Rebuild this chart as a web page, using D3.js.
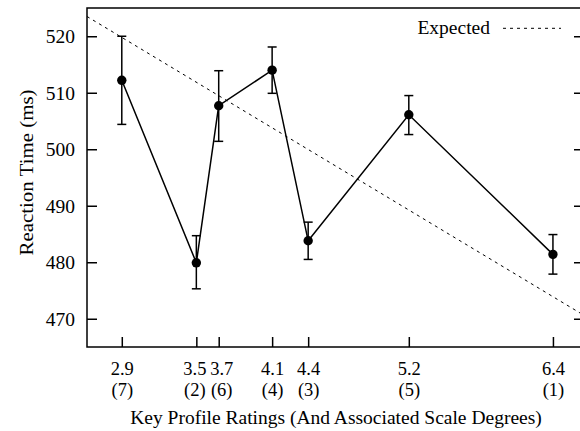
<!DOCTYPE html>
<html><head><meta charset="utf-8">
<script src="https://cdn.jsdelivr.net/npm/d3@7"></script>
<style>
html,body{margin:0;padding:0;background:#fff;}
svg{display:block;}
svg text{font-family:"Liberation Serif","Times New Roman",Times,"DejaVu Serif",serif !important;}
</style></head>
<body>
<svg id="chart" width="580" height="431"></svg>
<script>
// Data
const ratings = [2.88, 3.48, 3.66, 4.09, 4.38, 5.19, 6.35];
const tickLabels = ["2.9", "3.5", "3.7", "4.1", "4.4", "5.2", "6.4"];
const degreeLabels = ["(7)", "(2)", "(6)", "(4)", "(3)", "(5)", "(1)"];
const meanRT = [512.2, 479.9, 507.7, 514.0, 483.8, 506.1, 481.4];
const errLow = [504.4, 475.3, 501.4, 509.9, 480.5, 502.6, 477.9];
const errHigh = [520.0, 484.7, 513.9, 518.1, 487.1, 509.5, 484.9];
const expectedX = [2.6, 6.6];
const expectedY = [523.5, 470.6];
const yTicks = [470, 480, 490, 500, 510, 520];

const svg = d3.select("#chart");
const L = 87, R = 584, T = 8, B = 347;
const x = d3.scaleLinear().domain([2.6, 6.6]).range([L, R]);
const y = d3.scaleLinear().domain([465, 525]).range([B, T]);

const fs = 19.5;
const fsTick = 18.5;

// Frame
svg.append("rect").attr("x", L).attr("y", T).attr("width", R - L).attr("height", B - T)
  .attr("fill", "none").attr("stroke", "#000").attr("stroke-width", 1.5);

// Left axis (inward ticks)
const yAxisL = d3.axisLeft(y).tickValues(yTicks).tickSizeInner(-10).tickSizeOuter(0).tickPadding(12).tickFormat(d3.format("d"));
const gL = svg.append("g").attr("transform", `translate(${L},0)`).call(yAxisL);
gL.select(".domain").remove();
gL.selectAll(".tick line").attr("stroke-width", 1.5);
gL.selectAll("text").attr("font-size", fs).attr("fill", "#000");

// Right axis ticks (inward)
const yAxisR = d3.axisRight(y).tickValues(yTicks).tickSizeInner(-10).tickSizeOuter(0).tickFormat("");
const gR = svg.append("g").attr("transform", `translate(${R},0)`).call(yAxisR);
gR.select(".domain").remove();
gR.selectAll(".tick line").attr("stroke-width", 1.5);

// Bottom axis (inward ticks); the two crowded labels are nudged apart slightly
const xAxis = d3.axisBottom(x).tickValues(ratings).tickSizeInner(-10).tickSizeOuter(0).tickFormat("");
const gB = svg.append("g").attr("transform", `translate(0,${B})`).call(xAxis);
gB.select(".domain").remove();
gB.selectAll(".tick line").attr("stroke-width", 1.5);
const nudge = [0, -2, 2.5, 0, 0, 0, 0];
gB.selectAll(".tick").each(function(d, i) {
  const g = d3.select(this);
  g.append("text").attr("fill", "#000").attr("font-size", fsTick).attr("text-anchor", "middle")
    .attr("x", nudge[i]).attr("y", 27.5).text(tickLabels[i]);
  g.append("text").attr("fill", "#000").attr("font-size", fsTick).attr("text-anchor", "middle")
    .attr("x", nudge[i]).attr("y", 48.5).text(degreeLabels[i]);
});

// Axis titles
svg.append("text").attr("x", 336).attr("y", 424).attr("text-anchor", "middle")
  .attr("font-size", fs).text("Key Profile Ratings (And Associated Scale Degrees)");
svg.append("text").attr("transform", `translate(33,172.5) rotate(-90)`).attr("text-anchor", "middle")
  .attr("font-size", fs).attr("textLength", 166).attr("lengthAdjust", "spacingAndGlyphs")
  .text("Reaction Time (ms)");

// Expected line (clipped)
svg.append("clipPath").attr("id", "clip").append("rect").attr("x", L).attr("y", T).attr("width", R - L).attr("height", B - T);
const expData = expectedX.map((v, i) => [v, expectedY[i]]);
svg.append("path").datum(expData).attr("clip-path", "url(#clip)")
  .attr("d", d3.line().x(d => x(d[0])).y(d => y(d[1])))
  .attr("fill", "none").attr("stroke", "#000").attr("stroke-width", 1).attr("stroke-dasharray", "3,4");

// Legend
svg.append("text").attr("x", 490).attr("y", 34).attr("text-anchor", "end").attr("font-size", fs).text("Expected");
svg.append("line").attr("x1", 503).attr("x2", 561).attr("y1", 28.3).attr("y2", 28.3)
  .attr("stroke", "#000").attr("stroke-width", 1).attr("stroke-dasharray", "3,4");

// Data line
const pts = ratings.map((r, i) => ({ r, m: meanRT[i], lo: errLow[i], hi: errHigh[i] }));
svg.append("path").datum(pts).attr("d", d3.line().x(d => x(d.r)).y(d => y(d.m)))
  .attr("fill", "none").attr("stroke", "#000").attr("stroke-width", 1.5);

// Error bars
const eb = svg.append("g").attr("stroke", "#000").attr("stroke-width", 1.5);
pts.forEach(d => {
  eb.append("line").attr("x1", x(d.r)).attr("x2", x(d.r)).attr("y1", y(d.lo)).attr("y2", y(d.hi));
  eb.append("line").attr("x1", x(d.r) - 4.5).attr("x2", x(d.r) + 4.5).attr("y1", y(d.lo)).attr("y2", y(d.lo));
  eb.append("line").attr("x1", x(d.r) - 4.5).attr("x2", x(d.r) + 4.5).attr("y1", y(d.hi)).attr("y2", y(d.hi));
});

// Markers
svg.append("g").selectAll("circle").data(pts).join("circle")
  .attr("cx", d => x(d.r)).attr("cy", d => y(d.m)).attr("r", 4.7).attr("fill", "#000");
</script>
</body></html>
